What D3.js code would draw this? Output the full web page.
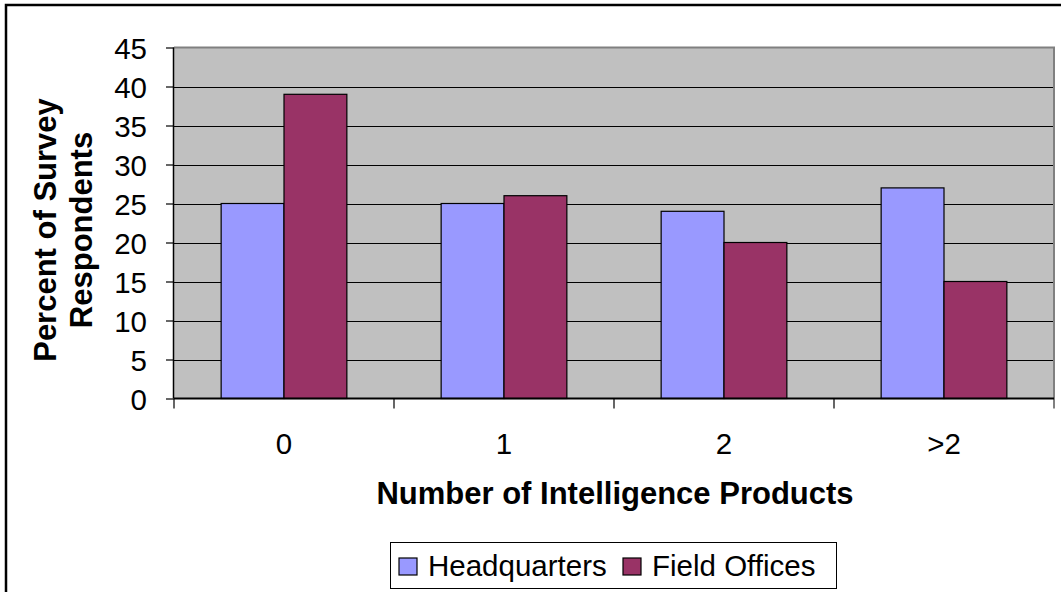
<!DOCTYPE html>
<html>
<head>
<meta charset="utf-8">
<script src="https://cdn.jsdelivr.net/npm/d3@7"></script>
<style>
  html, body { margin: 0; padding: 0; background: #fff; }
  svg { display: block; font-family: "Liberation Sans", Arial, sans-serif; }
</style>
</head>
<body>
<svg id="chart" width="1061" height="592"></svg>
<script>
const categories = ["0", "1", "2", ">2"];
const seriesNames = ["Headquarters", "Field Offices"];
const headquarters = [25, 25, 24, 27];
const fieldOffices = [39, 26, 20, 15];
const yTicks = [0, 5, 10, 15, 20, 25, 30, 35, 40, 45];
const colors = ["#9999FF", "#993366"];

const svg = d3.select("#chart");
const plot = { left: 174, right: 1054, top: 47.5, bottom: 398.5 };

// outer border
svg.append("rect").attr("x", 6).attr("y", 5).attr("width", 1200).attr("height", 800)
  .attr("fill", "#fff").attr("stroke", "#000").attr("stroke-width", 2.5);

const x = d3.scaleBand().domain(categories).range([plot.left, plot.right]).paddingInner(0).paddingOuter(0);
const y = d3.scaleLinear().domain([0, 45]).range([plot.bottom, plot.top]);

// plot background
svg.append("rect").attr("x", plot.left).attr("y", plot.top)
  .attr("width", plot.right - plot.left).attr("height", plot.bottom - plot.top)
  .attr("fill", "#C0C0C0");

// gridlines
svg.append("g").selectAll("line").data(yTicks.filter(t => t > 0 && t < 45)).join("line")
  .attr("x1", plot.left).attr("x2", plot.right)
  .attr("y1", d => Math.round(y(d)) + 0.5).attr("y2", d => Math.round(y(d)) + 0.5)
  .attr("stroke", "#000").attr("stroke-width", 1);

// plot border top & right (gray)
svg.append("path")
  .attr("d", `M${plot.left},${plot.top} H${plot.right} V${plot.bottom + 10}`)
  .attr("fill", "none").attr("stroke", "#808080").attr("stroke-width", 2);

// bars
const bw = x.bandwidth() / 3.5;
const series = [headquarters, fieldOffices];
series.forEach((vals, si) => {
  svg.append("g").selectAll("rect").data(vals).join("rect")
    .attr("x", (d, i) => x(categories[i]) + x.bandwidth() / 2 - bw + si * bw)
    .attr("y", d => y(d))
    .attr("width", bw)
    .attr("height", d => y(0) - y(d))
    .attr("fill", colors[si])
    .attr("stroke", "#000").attr("stroke-width", 1.2);
});

// y axis
const yAxis = d3.axisLeft(y).tickValues(yTicks).tickSize(8).tickPadding(19);
const yg = svg.append("g").attr("transform", `translate(${plot.left},0)`).call(yAxis);
yg.select(".domain").attr("stroke", "#000").attr("stroke-width", 1.5).attr("d", `M-0.5,${plot.top}V${plot.bottom}`);
yg.selectAll(".tick line").attr("stroke", "#000").attr("stroke-width", 1.2);
yg.selectAll(".tick text").attr("font-size", 29.5).attr("fill", "#000")
  .attr("font-family", "Liberation Sans, Arial, sans-serif").attr("dy", "0.36em");

// x axis
const xg = svg.append("g").attr("transform", `translate(0,${plot.bottom})`);
xg.append("line").attr("x1", plot.left).attr("x2", plot.right).attr("y1", 0).attr("y2", 0)
  .attr("stroke", "#000").attr("stroke-width", 2);
const bounds = categories.map(c => x(c)).concat([plot.right]);
xg.selectAll("line.tk").data(bounds.slice(0, 4)).join("line").attr("class", "tk")
  .attr("x1", d => d).attr("x2", d => d).attr("y1", 0).attr("y2", 10)
  .attr("stroke", "#000").attr("stroke-width", 1.2);
xg.selectAll("text").data(categories).join("text")
  .attr("x", d => x(d) + x.bandwidth() / 2).attr("y", 55)
  .attr("text-anchor", "middle").attr("font-size", 29.5).attr("fill", "#000")
  .text(d => d);

// axis titles
svg.append("text").attr("x", 615).attr("y", 504)
  .attr("text-anchor", "middle").attr("font-size", 31).attr("font-weight", "bold")
  .text("Number of Intelligence Products");

const yt = svg.append("text").attr("transform", "translate(0,230) rotate(-90)")
  .attr("text-anchor", "middle").attr("font-size", 31).attr("font-weight", "bold");
yt.append("tspan").attr("x", 0).attr("y", 56).text("Percent of Survey");
yt.append("tspan").attr("x", 0).attr("y", 92).text("Respondents");

// legend
const lg = svg.append("g");
lg.append("rect").attr("x", 390.5).attr("y", 542.5).attr("width", 446).attr("height", 46)
  .attr("fill", "#fff").attr("stroke", "#000").attr("stroke-width", 1);
const legendX = [399, 623];
seriesNames.forEach((name, i) => {
  lg.append("rect").attr("x", legendX[i]).attr("y", 558).attr("width", 18).attr("height", 17)
    .attr("fill", colors[i]).attr("stroke", "#000").attr("stroke-width", 1.2);
  lg.append("text").attr("x", legendX[i] + 29).attr("y", 576)
    .attr("font-size", 29.5).attr("fill", "#000").text(name);
});
</script>
</body>
</html>
